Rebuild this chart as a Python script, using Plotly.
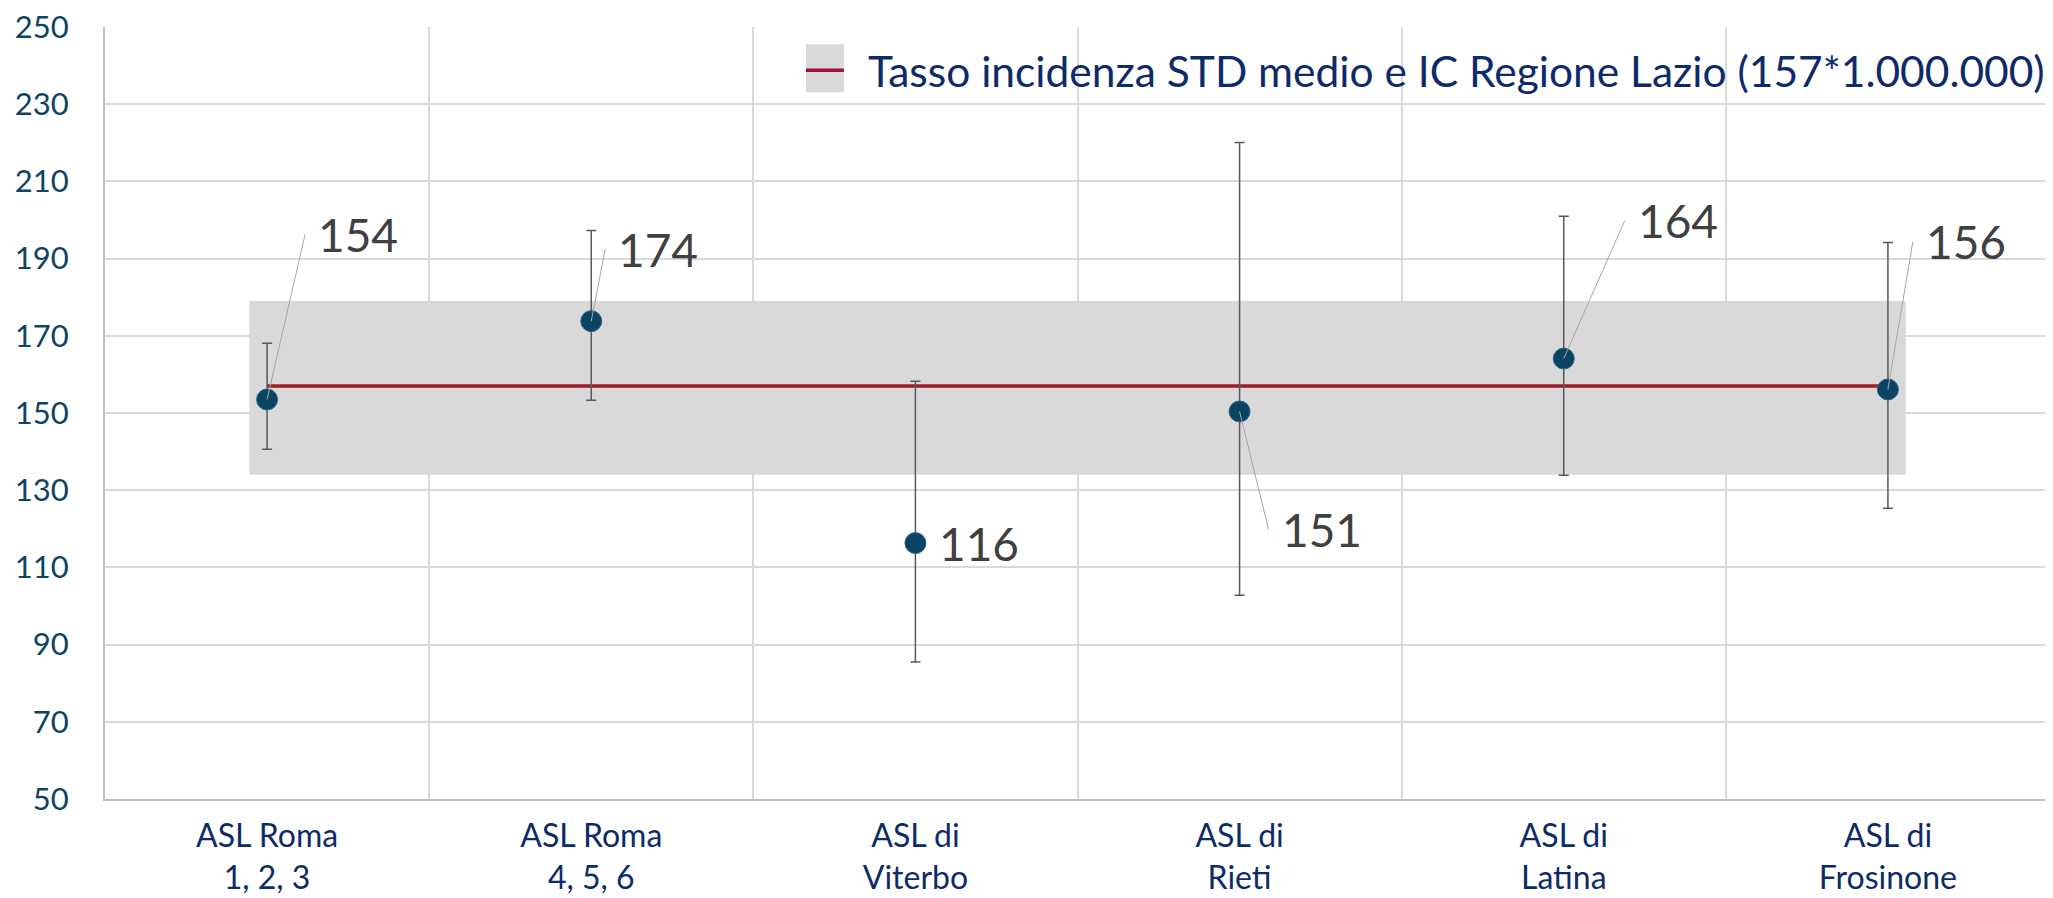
import plotly.graph_objects as go

# ---- data ----
categories = ["ASL Roma<br>1, 2, 3", "ASL Roma<br>4, 5, 6", "ASL di<br>Viterbo",
              "ASL di<br>Rieti", "ASL di<br>Latina", "ASL di<br>Frosinone"]
rates = [153.5, 173.8, 116.3, 150.4, 164.1, 156.1]
rate_labels = ["154", "174", "116", "151", "164", "156"]
ci_upper = [168.1, 197.3, 158.2, 220.1, 201.0, 194.2]
ci_lower = [140.6, 153.3, 85.5, 102.8, 133.9, 125.3]
region_mean = 157
region_ci_lower = 134
region_ci_upper = 179
legend_text = "Tasso incidenza STD medio e IC Regione Lazio (157*1.000.000)"
y_ticks = [50, 70, 90, 110, 130, 150, 170, 190, 210, 230, 250]

# label placement (pixel offsets of leader-line tail from the point)
label_ax = [38, 14, 0, 29, 61, 25]
label_ay = [-165, -72, 0, 118, -138, -148]

FONT = "Lato, 'Open Sans', sans-serif"
x = list(range(len(categories)))
pad = 0.055

fig = go.Figure()

# regional CI band
band_x = [x[0] - pad, x[-1] + pad]
fig.add_trace(go.Scatter(x=band_x, y=[region_ci_lower] * 2, mode="lines",
                         line=dict(width=0, color="rgba(0,0,0,0)"),
                         showlegend=False, hoverinfo="skip"))
fig.add_trace(go.Scatter(x=band_x, y=[region_ci_upper] * 2, mode="lines",
                         line=dict(width=0, color="rgba(0,0,0,0)"),
                         fill="tonexty", fillcolor="#D9D9D9",
                         showlegend=False, hoverinfo="skip"))
# regional mean line
fig.add_trace(go.Scatter(x=[x[0], x[-1]], y=[region_mean] * 2, mode="lines",
                         line=dict(width=3.5, color="#A11A2A"),
                         showlegend=False, hoverinfo="skip"))
# ASL points with CI
fig.add_trace(go.Scatter(
    x=x, y=rates, mode="markers",
    marker=dict(size=21, color="#0B4462", line=dict(width=1, color="#2A6485")),
    error_y=dict(type="data", symmetric=False,
                 array=[u - r for u, r in zip(ci_upper, rates)],
                 arrayminus=[r - l for r, l in zip(rates, ci_lower)],
                 color="#595959", thickness=1.5, width=5),
    showlegend=False))

annotations = []
for i, (xi, yi, lab) in enumerate(zip(x, rates, rate_labels)):
    if label_ax[i] == 0 and label_ay[i] == 0:
        annotations.append(dict(x=xi, y=yi, text=lab, showarrow=False,
                                xanchor="left", yanchor="middle", xshift=22,
                                font=dict(family=FONT, size=46, color="#404040")))
    else:
        annotations.append(dict(x=xi, y=yi, text=lab, showarrow=True,
                                arrowhead=0, arrowwidth=1, arrowcolor="#A6A6A6",
                                ax=label_ax[i], ay=label_ay[i],
                                xanchor="left", yanchor="middle", borderpad=12,
                                font=dict(family=FONT, size=46, color="#404040")))

# custom legend
annotations.append(dict(xref="paper", yref="paper", x=0.3913, y=0.944,
                        xanchor="left", yanchor="middle", showarrow=False,
                        text=legend_text,
                        font=dict(family=FONT, size=42.5, color="#0D2A6B")))
shapes = [
    dict(type="rect", xref="paper", yref="paper", x0=0.3604, x1=0.3799,
         y0=0.9154, y1=0.9776, fillcolor="#D9D9D9", line=dict(width=0)),
    dict(type="line", xref="paper", yref="paper", x0=0.3604, x1=0.3799,
         y0=0.9439, y1=0.9439, line=dict(color="#A0103A", width=3.5)),
]

# page body adds an 8px offset; size the figure to fit the window
fig.update_layout(
    width=2045, height=890,
    margin=dict(l=97, r=3, t=19, b=99),
    paper_bgcolor="white", plot_bgcolor="white",
    annotations=annotations, shapes=shapes,
    showlegend=False,
    xaxis=dict(range=[-0.5, len(categories) - 0.5], tickmode="array",
               tickvals=x, ticktext=categories, showgrid=False, automargin=False,
               zeroline=False, showline=True, linecolor="#BFBFBF", linewidth=2,
               ticks="", ticklabelstandoff=8, ticklabeloverflow="allow",
               tickfont=dict(family=FONT, size=32, color="#0D2B6B"),
               minor=dict(tickmode="array",
                          tickvals=[v - 0.5 for v in x] + [x[-1] + 0.5],
                          showgrid=True, gridcolor="#D9D9D9", gridwidth=1.5,
                          ticks="")),
    yaxis=dict(range=[50, 250], tickmode="array", tickvals=y_ticks,
               showgrid=True, gridcolor="#D9D9D9", gridwidth=1.5, automargin=False,
               zeroline=False, showline=True, linecolor="#BFBFBF", linewidth=2,
               ticks="", ticklabelstandoff=28, ticklabeloverflow="allow",
               tickfont=dict(family=FONT, size=31, color="#0E4463")),
)

fig.write_html("out.html")
